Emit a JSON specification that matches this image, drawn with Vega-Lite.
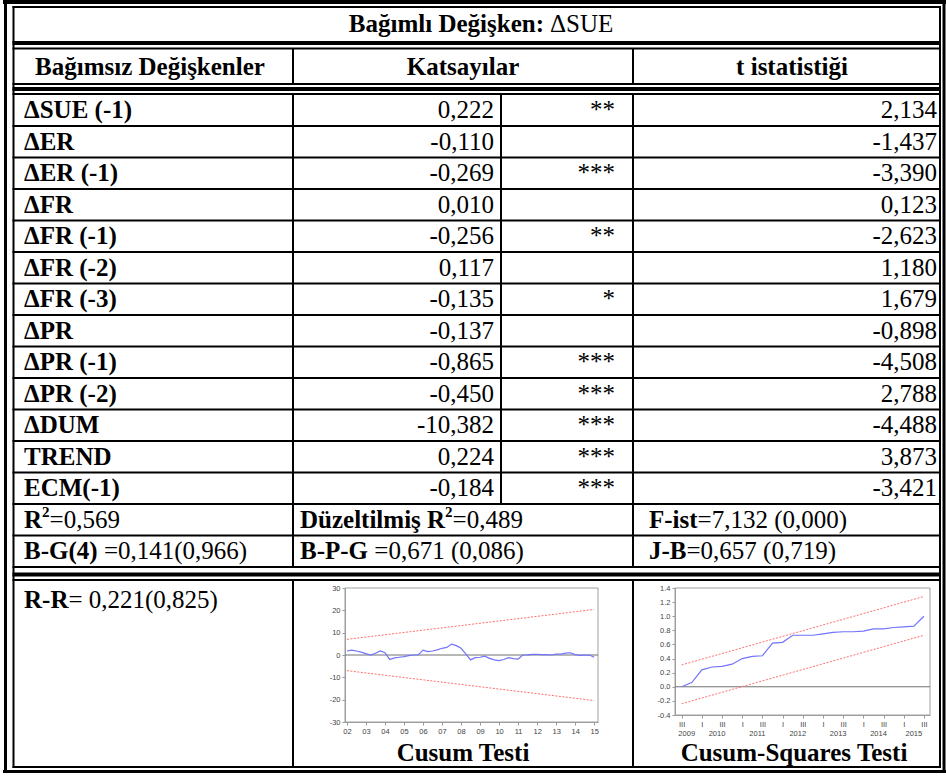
{
"$schema": "https://vega.github.io/schema/vega-lite/v6.json",
"width": 946, "height": 778,
"autosize": {"type": "none"},
"padding": 0,
"background": "white",
"config": {
  "view": {"stroke": null},
  "locale": {"number": {"decimal": ",", "thousands": ".", "grouping": [3], "currency": ["", ""], "minus": "-"}},
  "text": {"font": "Liberation Serif", "fontSize": 25, "color": "black", "baseline": "middle"},
  "rule": {"color": "black"}
},
"datasets": {
  "katsayilar": [
    {"degisken": "ΔSUE (-1)", "katsayi": 0.222, "anlamlilik": "**", "t_ist": 2.134},
    {"degisken": "ΔER", "katsayi": -0.110, "anlamlilik": "", "t_ist": -1.437},
    {"degisken": "ΔER (-1)", "katsayi": -0.269, "anlamlilik": "***", "t_ist": -3.390},
    {"degisken": "ΔFR", "katsayi": 0.010, "anlamlilik": "", "t_ist": 0.123},
    {"degisken": "ΔFR (-1)", "katsayi": -0.256, "anlamlilik": "**", "t_ist": -2.623},
    {"degisken": "ΔFR (-2)", "katsayi": 0.117, "anlamlilik": "", "t_ist": 1.180},
    {"degisken": "ΔFR (-3)", "katsayi": -0.135, "anlamlilik": "*", "t_ist": 1.679},
    {"degisken": "ΔPR", "katsayi": -0.137, "anlamlilik": "", "t_ist": -0.898},
    {"degisken": "ΔPR (-1)", "katsayi": -0.865, "anlamlilik": "***", "t_ist": -4.508},
    {"degisken": "ΔPR (-2)", "katsayi": -0.450, "anlamlilik": "***", "t_ist": 2.788},
    {"degisken": "ΔDUM", "katsayi": -10.382, "anlamlilik": "***", "t_ist": -4.488},
    {"degisken": "TREND", "katsayi": 0.224, "anlamlilik": "***", "t_ist": 3.873},
    {"degisken": "ECM(-1)", "katsayi": -0.184, "anlamlilik": "***", "t_ist": -3.421}
  ],
  "istatistikler": [
    {"satir": "R2", "sutun": 1, "kalin": "R", "ust": "2", "metin": "=0,569"},
    {"satir": "R2", "sutun": 2, "kalin": "Düzeltilmiş R", "ust": "2", "metin": "=0,489"},
    {"satir": "R2", "sutun": 3, "kalin": "F-ist", "ust": "", "metin": "=7,132 (0,000)"},
    {"satir": "BG", "sutun": 1, "kalin": "B-G(4)", "ust": "", "metin": "=0,141(0,966)"},
    {"satir": "BG", "sutun": 2, "kalin": "B-P-G", "ust": "", "metin": "=0,671 (0,086)"},
    {"satir": "BG", "sutun": 3, "kalin": "J-B", "ust": "", "metin": "=0,657 (0,719)"},
    {"satir": "RR", "sutun": 1, "kalin": "R-R", "ust": "", "metin": "= 0,221(0,825)"}
  ],
  "cusum": [
    {"t": 2002.00, "cusum": 1.8}, {"t": 2002.25, "cusum": 2.2}, {"t": 2002.50, "cusum": 1.8}, {"t": 2002.75, "cusum": 1.3},
    {"t": 2003.00, "cusum": 0.6}, {"t": 2003.25, "cusum": 0.0}, {"t": 2003.50, "cusum": 0.8}, {"t": 2003.75, "cusum": 1.8},
    {"t": 2004.00, "cusum": 1.0}, {"t": 2004.25, "cusum": -2.0}, {"t": 2004.50, "cusum": -1.3}, {"t": 2004.75, "cusum": -1.0},
    {"t": 2005.00, "cusum": -0.7}, {"t": 2005.25, "cusum": -0.3}, {"t": 2005.50, "cusum": 0.0}, {"t": 2005.75, "cusum": 0.0},
    {"t": 2006.00, "cusum": 2.2}, {"t": 2006.25, "cusum": 1.5}, {"t": 2006.50, "cusum": 1.8}, {"t": 2006.75, "cusum": 2.3},
    {"t": 2007.00, "cusum": 3.0}, {"t": 2007.25, "cusum": 3.4}, {"t": 2007.50, "cusum": 4.9}, {"t": 2007.75, "cusum": 4.2},
    {"t": 2008.00, "cusum": 3.0}, {"t": 2008.25, "cusum": 0.5}, {"t": 2008.50, "cusum": -2.2}, {"t": 2008.75, "cusum": -1.2},
    {"t": 2009.00, "cusum": -1.0}, {"t": 2009.25, "cusum": -0.5}, {"t": 2009.50, "cusum": -1.5}, {"t": 2009.75, "cusum": -2.2},
    {"t": 2010.00, "cusum": -2.5}, {"t": 2010.25, "cusum": -2.0}, {"t": 2010.50, "cusum": -1.2}, {"t": 2010.75, "cusum": -1.6},
    {"t": 2011.00, "cusum": -1.8}, {"t": 2011.25, "cusum": 0.0}, {"t": 2011.50, "cusum": 0.1}, {"t": 2011.75, "cusum": 0.3},
    {"t": 2012.00, "cusum": 0.3}, {"t": 2012.25, "cusum": 0.2}, {"t": 2012.50, "cusum": 0.2}, {"t": 2012.75, "cusum": 0.0},
    {"t": 2013.00, "cusum": 0.4}, {"t": 2013.25, "cusum": 0.4}, {"t": 2013.50, "cusum": 0.8}, {"t": 2013.75, "cusum": 1.0},
    {"t": 2014.00, "cusum": 0.2}, {"t": 2014.25, "cusum": -0.2}, {"t": 2014.50, "cusum": -0.1}, {"t": 2014.75, "cusum": 0.0},
    {"t": 2015.00, "cusum": -1.0}
  ],
  "cusum_sinir": [
    {"t": 2002.0, "alt": -7.0, "ust": 7.0},
    {"t": 2015.0, "alt": -20.4, "ust": 20.4}
  ],
  "cusumkare": [
    {"t": 2009.50, "yil": "2009", "cusumkare": 0.00}, {"t": 2009.75, "yil": "2009", "cusumkare": 0.06},
    {"t": 2010.00, "yil": "2010", "cusumkare": 0.24}, {"t": 2010.25, "yil": "2010", "cusumkare": 0.28},
    {"t": 2010.50, "yil": "2010", "cusumkare": 0.29}, {"t": 2010.75, "yil": "2010", "cusumkare": 0.32},
    {"t": 2011.00, "yil": "2011", "cusumkare": 0.40}, {"t": 2011.25, "yil": "2011", "cusumkare": 0.43},
    {"t": 2011.50, "yil": "2011", "cusumkare": 0.44}, {"t": 2011.75, "yil": "2011", "cusumkare": 0.62},
    {"t": 2012.00, "yil": "2012", "cusumkare": 0.63}, {"t": 2012.25, "yil": "2012", "cusumkare": 0.73},
    {"t": 2012.50, "yil": "2012", "cusumkare": 0.73}, {"t": 2012.75, "yil": "2012", "cusumkare": 0.73},
    {"t": 2013.00, "yil": "2013", "cusumkare": 0.75}, {"t": 2013.25, "yil": "2013", "cusumkare": 0.77},
    {"t": 2013.50, "yil": "2013", "cusumkare": 0.78}, {"t": 2013.75, "yil": "2013", "cusumkare": 0.78},
    {"t": 2014.00, "yil": "2014", "cusumkare": 0.79}, {"t": 2014.25, "yil": "2014", "cusumkare": 0.82},
    {"t": 2014.50, "yil": "2014", "cusumkare": 0.82}, {"t": 2014.75, "yil": "2014", "cusumkare": 0.84},
    {"t": 2015.00, "yil": "2015", "cusumkare": 0.85}, {"t": 2015.25, "yil": "2015", "cusumkare": 0.86},
    {"t": 2015.50, "yil": "2015", "cusumkare": 1.00}
  ],
  "cusumkare_sinir": [
    {"t": 2009.5, "alt": -0.24, "ust": 0.31},
    {"t": 2015.5, "alt": 0.73, "ust": 1.28}
  ]
},
"layer": [
  {
    "data": {"values": [{}]},
    "layer": [
      {"mark": {"type": "rule", "strokeWidth": 4}, "encoding": {"x": {"datum": 3, "scale": {"domain": [0, 946], "range": [0, 946], "nice": false, "zero": false}, "axis": null}, "x2": {"datum": 946}, "y": {"datum": 2, "scale": {"domain": [0, 778], "range": [0, 778], "nice": false, "zero": false}, "axis": null}}},
      {"mark": {"type": "rule", "strokeWidth": 3}, "encoding": {"x": {"datum": 3, "axis": null}, "x2": {"datum": 946}, "y": {"datum": 771.5, "axis": null}}},
      {"mark": {"type": "rule", "strokeWidth": 3}, "encoding": {"x": {"datum": 5.5, "axis": null}, "y": {"datum": 0, "axis": null}, "y2": {"datum": 773}}},
      {"mark": {"type": "rule", "strokeWidth": 3}, "encoding": {"x": {"datum": 944, "axis": null}, "y": {"datum": 0, "axis": null}, "y2": {"datum": 773}}},
      {"mark": {"type": "rule", "strokeWidth": 2}, "encoding": {"x": {"datum": 12.5, "axis": null}, "x2": {"datum": 941}, "y": {"datum": 7, "axis": null}}},
      {"mark": {"type": "rule", "strokeWidth": 2}, "encoding": {"x": {"datum": 12.5, "axis": null}, "x2": {"datum": 941}, "y": {"datum": 767, "axis": null}}},
      {"mark": {"type": "rule", "strokeWidth": 2}, "encoding": {"x": {"datum": 13.5, "axis": null}, "y": {"datum": 6, "axis": null}, "y2": {"datum": 768}}},
      {"mark": {"type": "rule", "strokeWidth": 2}, "encoding": {"x": {"datum": 940, "axis": null}, "y": {"datum": 6, "axis": null}, "y2": {"datum": 768}}},
      {"mark": {"type": "rule", "strokeWidth": 4}, "encoding": {"x": {"datum": 12.5, "axis": null}, "x2": {"datum": 941}, "y": {"datum": 43, "axis": null}}},
      {"mark": {"type": "rule", "strokeWidth": 2}, "encoding": {"x": {"datum": 12.5, "axis": null}, "x2": {"datum": 941}, "y": {"datum": 48.5, "axis": null}}},
      {"mark": {"type": "rule", "strokeWidth": 2}, "encoding": {"x": {"datum": 12.5, "axis": null}, "x2": {"datum": 941}, "y": {"datum": 84, "axis": null}}},
      {"mark": {"type": "rule", "strokeWidth": 4}, "encoding": {"x": {"datum": 12.5, "axis": null}, "x2": {"datum": 941}, "y": {"datum": 89, "axis": null}}},
      {"mark": {"type": "rule", "strokeWidth": 2}, "encoding": {"x": {"datum": 12.5, "axis": null}, "x2": {"datum": 941}, "y": {"datum": 94, "axis": null}}},
      {"mark": {"type": "rule", "strokeWidth": 2}, "encoding": {"x": {"datum": 12.5, "axis": null}, "x2": {"datum": 941}, "y": {"datum": 567, "axis": null}}},
      {"mark": {"type": "rule", "strokeWidth": 4}, "encoding": {"x": {"datum": 12.5, "axis": null}, "x2": {"datum": 941}, "y": {"datum": 574.5, "axis": null}}},
      {"mark": {"type": "rule", "strokeWidth": 2}, "encoding": {"x": {"datum": 12.5, "axis": null}, "x2": {"datum": 941}, "y": {"datum": 580, "axis": null}}},
      {"mark": {"type": "rule", "strokeWidth": 2}, "encoding": {"x": {"datum": 293, "axis": null}, "y": {"datum": 48.5, "axis": null}, "y2": {"datum": 84}}},
      {"mark": {"type": "rule", "strokeWidth": 2}, "encoding": {"x": {"datum": 293, "axis": null}, "y": {"datum": 94, "axis": null}, "y2": {"datum": 567}}},
      {"mark": {"type": "rule", "strokeWidth": 2}, "encoding": {"x": {"datum": 293, "axis": null}, "y": {"datum": 580, "axis": null}, "y2": {"datum": 767}}},
      {"mark": {"type": "rule", "strokeWidth": 2}, "encoding": {"x": {"datum": 633, "axis": null}, "y": {"datum": 48.5, "axis": null}, "y2": {"datum": 84}}},
      {"mark": {"type": "rule", "strokeWidth": 2}, "encoding": {"x": {"datum": 633, "axis": null}, "y": {"datum": 94, "axis": null}, "y2": {"datum": 567}}},
      {"mark": {"type": "rule", "strokeWidth": 2}, "encoding": {"x": {"datum": 633, "axis": null}, "y": {"datum": 580, "axis": null}, "y2": {"datum": 767}}},
      {"mark": {"type": "rule", "strokeWidth": 2}, "encoding": {"x": {"datum": 501, "axis": null}, "y": {"datum": 94, "axis": null}, "y2": {"datum": 504.5}}},
      {"mark": {"type": "text", "align": "right", "fontWeight": "bold"}, "encoding": {"x": {"datum": 544, "axis": null}, "y": {"datum": 24, "axis": null}, "text": {"value": "Bağımlı Değişken:"}}},
      {"mark": {"type": "text", "align": "left"}, "encoding": {"x": {"datum": 550, "axis": null}, "y": {"datum": 24, "axis": null}, "text": {"value": "ΔSUE"}}},
      {"mark": {"type": "text", "align": "center", "fontWeight": "bold"}, "encoding": {"x": {"datum": 150, "axis": null}, "y": {"datum": 67, "axis": null}, "text": {"value": "Bağımsız Değişkenler"}}},
      {"mark": {"type": "text", "align": "center", "fontWeight": "bold"}, "encoding": {"x": {"datum": 463, "axis": null}, "y": {"datum": 67, "axis": null}, "text": {"value": "Katsayılar"}}},
      {"mark": {"type": "text", "align": "center", "fontWeight": "bold"}, "encoding": {"x": {"datum": 792, "axis": null}, "y": {"datum": 67, "axis": null}, "text": {"value": "t istatistiği"}}},
      {"data": {"name": "istatistikler"}, "transform": [{"filter": "datum.satir == 'RR'"}], "mark": {"type": "text", "align": "left", "fontWeight": "bold"}, "encoding": {"x": {"datum": 24, "axis": null}, "y": {"datum": 600, "axis": null}, "text": {"field": "kalin"}}},
      {"data": {"name": "istatistikler"}, "transform": [{"filter": "datum.satir == 'RR'"}], "mark": {"type": "text", "align": "left", "dx": 44.4}, "encoding": {"x": {"datum": 24, "axis": null}, "y": {"datum": 600, "axis": null}, "text": {"field": "metin"}}},
      {"mark": {"type": "text", "align": "center", "fontWeight": "bold"}, "encoding": {"x": {"datum": 463, "axis": null}, "y": {"datum": 753, "axis": null}, "text": {"value": "Cusum Testi"}}},
      {"mark": {"type": "text", "align": "center", "fontWeight": "bold"}, "encoding": {"x": {"datum": 794, "axis": null}, "y": {"datum": 753, "axis": null}, "text": {"value": "Cusum-Squares Testi"}}}
    ]
  },
  {
    "data": {"name": "katsayilar"},
    "layer": [
      {"mark": {"type": "text", "align": "left", "fontWeight": "bold"},
       "encoding": {
         "x": {"datum": 24, "scale": {"domain": [0, 946], "range": [0, 946], "nice": false, "zero": false}, "axis": null},
         "y": {"field": "degisken", "type": "nominal", "sort": null, "scale": {"domain": ["ΔSUE (-1)", "ΔER", "ΔER (-1)", "ΔFR", "ΔFR (-1)", "ΔFR (-2)", "ΔFR (-3)", "ΔPR", "ΔPR (-1)", "ΔPR (-2)", "ΔDUM", "TREND", "ECM(-1)", "R2", "BG"], "range": [94.5, 567], "paddingInner": 0, "paddingOuter": 0}, "axis": null},
         "text": {"field": "degisken"}}},
      {"mark": {"type": "text", "align": "right"}, "encoding": {"x": {"datum": 494, "axis": null}, "y": {"field": "degisken", "type": "nominal", "axis": null}, "text": {"field": "katsayi", "type": "quantitative", "format": ".3f"}}},
      {"mark": {"type": "text", "align": "right"}, "encoding": {"x": {"datum": 615, "axis": null}, "y": {"field": "degisken", "type": "nominal", "axis": null}, "text": {"field": "anlamlilik"}}},
      {"mark": {"type": "text", "align": "right"}, "encoding": {"x": {"datum": 937, "axis": null}, "y": {"field": "degisken", "type": "nominal", "axis": null}, "text": {"field": "t_ist", "type": "quantitative", "format": ".3f"}}},
      {"mark": {"type": "rule", "strokeWidth": 2}, "encoding": {"x": {"datum": 12.5, "axis": null}, "x2": {"datum": 941}, "y": {"field": "degisken", "type": "nominal", "bandPosition": 1, "axis": null}}},
      {"data": {"name": "istatistikler"}, "transform": [{"filter": "datum.satir == 'R2' && datum.sutun == 1"}], "mark": {"type": "rule", "strokeWidth": 2}, "encoding": {"x": {"datum": 12.5, "axis": null}, "x2": {"datum": 941}, "y": {"field": "satir", "type": "nominal", "bandPosition": 1, "axis": null}}},
      {"data": {"name": "istatistikler"}, "transform": [{"filter": "datum.satir != 'RR' && datum.sutun == 1"}], "mark": {"type": "text", "align": "left", "fontWeight": "bold"}, "encoding": {"x": {"datum": 24, "axis": null}, "y": {"field": "satir", "type": "nominal", "axis": null}, "text": {"field": "kalin"}}},
      {"data": {"name": "istatistikler"}, "transform": [{"filter": "datum.satir != 'RR' && datum.sutun == 2"}], "mark": {"type": "text", "align": "left", "fontWeight": "bold"}, "encoding": {"x": {"datum": 300, "axis": null}, "y": {"field": "satir", "type": "nominal", "axis": null}, "text": {"field": "kalin"}}},
      {"data": {"name": "istatistikler"}, "transform": [{"filter": "datum.satir != 'RR' && datum.sutun == 3"}], "mark": {"type": "text", "align": "left", "fontWeight": "bold"}, "encoding": {"x": {"datum": 649, "axis": null}, "y": {"field": "satir", "type": "nominal", "axis": null}, "text": {"field": "kalin"}}},
      {"data": {"name": "istatistikler"}, "transform": [{"filter": "datum.satir == 'R2' && datum.sutun == 1"}], "mark": {"type": "text", "align": "left", "fontWeight": "bold", "fontSize": 15, "dx": 18, "dy": -8}, "encoding": {"x": {"datum": 24, "axis": null}, "y": {"field": "satir", "type": "nominal", "axis": null}, "text": {"field": "ust"}}},
      {"data": {"name": "istatistikler"}, "transform": [{"filter": "datum.satir == 'R2' && datum.sutun == 2"}], "mark": {"type": "text", "align": "left", "fontWeight": "bold", "fontSize": 15, "dx": 145, "dy": -8}, "encoding": {"x": {"datum": 300, "axis": null}, "y": {"field": "satir", "type": "nominal", "axis": null}, "text": {"field": "ust"}}},
      {"data": {"name": "istatistikler"}, "transform": [{"filter": "datum.satir == 'R2' && datum.sutun == 1"}], "mark": {"type": "text", "align": "left", "dx": 25.6}, "encoding": {"x": {"datum": 24, "axis": null}, "y": {"field": "satir", "type": "nominal", "axis": null}, "text": {"field": "metin"}}},
      {"data": {"name": "istatistikler"}, "transform": [{"filter": "datum.satir == 'BG' && datum.sutun == 1"}], "mark": {"type": "text", "align": "left", "dx": 79.9}, "encoding": {"x": {"datum": 24, "axis": null}, "y": {"field": "satir", "type": "nominal", "axis": null}, "text": {"field": "metin"}}},
      {"data": {"name": "istatistikler"}, "transform": [{"filter": "datum.satir == 'R2' && datum.sutun == 2"}], "mark": {"type": "text", "align": "left", "dx": 152.6}, "encoding": {"x": {"datum": 300, "axis": null}, "y": {"field": "satir", "type": "nominal", "axis": null}, "text": {"field": "metin"}}},
      {"data": {"name": "istatistikler"}, "transform": [{"filter": "datum.satir == 'BG' && datum.sutun == 2"}], "mark": {"type": "text", "align": "left", "dx": 74.3}, "encoding": {"x": {"datum": 300, "axis": null}, "y": {"field": "satir", "type": "nominal", "axis": null}, "text": {"field": "metin"}}},
      {"data": {"name": "istatistikler"}, "transform": [{"filter": "datum.satir == 'R2' && datum.sutun == 3"}], "mark": {"type": "text", "align": "left", "dx": 48.6}, "encoding": {"x": {"datum": 649, "axis": null}, "y": {"field": "satir", "type": "nominal", "axis": null}, "text": {"field": "metin"}}},
      {"data": {"name": "istatistikler"}, "transform": [{"filter": "datum.satir == 'BG' && datum.sutun == 3"}], "mark": {"type": "text", "align": "left", "dx": 37.5}, "encoding": {"x": {"datum": 649, "axis": null}, "y": {"field": "satir", "type": "nominal", "axis": null}, "text": {"field": "metin"}}}
    ]
  },
  {
    "layer": [
      {"data": {"values": [{}]}, "mark": {"type": "rect", "fillOpacity": 0, "stroke": "#a0a0a0", "strokeWidth": 1},
       "encoding": {
         "x": {"datum": 2001.9, "scale": {"domain": [2001.9, 2015.2], "range": [345, 598], "nice": false, "zero": false},
               "axis": {"orient": "bottom", "offset": -56, "title": null, "values": [2002, 2003, 2004, 2005, 2006, 2007, 2008, 2009, 2010, 2011, 2012, 2013, 2014, 2015], "labelExpr": "slice(toString(datum.value), 2)", "labelFont": "Liberation Sans", "labelFontSize": 7.5, "labelColor": "#444", "tickColor": "#999", "domainColor": "#999", "tickSize": 3, "labelPadding": 2, "grid": false, "labelOverlap": false, "labelFlush": false}},
         "x2": {"datum": 2015.2},
         "y": {"datum": -30, "scale": {"domain": [-30, 30], "range": [722, 588], "nice": false, "zero": false},
               "axis": {"orient": "left", "offset": -345, "title": null, "values": [-30, -20, -10, 0, 10, 20, 30], "format": "d", "labelFont": "Liberation Sans", "labelFontSize": 7.5, "labelColor": "#444", "tickColor": "#999", "domainColor": "#999", "tickSize": 3, "labelPadding": 2, "grid": false, "labelOverlap": false, "labelFlush": false}},
         "y2": {"datum": 30}}},
      {"data": {"values": [{}]}, "mark": {"type": "rule", "color": "#707070", "strokeWidth": 1}, "encoding": {"x": {"datum": 2001.9}, "x2": {"datum": 2015.2}, "y": {"datum": 0}}},
      {"data": {"name": "cusum_sinir"}, "mark": {"type": "line", "color": "#ff6f6f", "strokeWidth": 1, "strokeDash": [2, 1.5]}, "encoding": {"x": {"field": "t", "type": "quantitative"}, "y": {"field": "ust", "type": "quantitative"}}},
      {"data": {"name": "cusum_sinir"}, "mark": {"type": "line", "color": "#ff6f6f", "strokeWidth": 1, "strokeDash": [2, 1.5]}, "encoding": {"x": {"field": "t", "type": "quantitative"}, "y": {"field": "alt", "type": "quantitative"}}},
      {"data": {"name": "cusum"}, "mark": {"type": "line", "color": "#7373ff", "strokeWidth": 1.2}, "encoding": {"x": {"field": "t", "type": "quantitative"}, "y": {"field": "cusum", "type": "quantitative"}}}
    ]
  },
  {
    "layer": [
      {"data": {"values": [{}]}, "mark": {"type": "rect", "fillOpacity": 0, "stroke": "#a0a0a0", "strokeWidth": 1},
       "encoding": {
         "x": {"datum": 2009.335, "scale": {"domain": [2009.335, 2015.65], "range": [675, 930], "nice": false, "zero": false},
               "axis": {"orient": "bottom", "offset": -63, "title": null, "values": [2009.5, 2009.75, 2010, 2010.25, 2010.5, 2010.75, 2011, 2011.25, 2011.5, 2011.75, 2012, 2012.25, 2012.5, 2012.75, 2013, 2013.25, 2013.5, 2013.75, 2014, 2014.25, 2014.5, 2014.75, 2015, 2015.25, 2015.5], "labelExpr": "['I','II','III','IV'][round((datum.value - floor(datum.value)) * 4)]", "labelFont": "Liberation Sans", "labelFontSize": 7.5, "labelColor": "#444", "tickColor": "#999", "domainColor": "#999", "tickSize": 3, "labelPadding": 2, "grid": false, "labelOverlap": false, "labelFlush": false}},
         "x2": {"datum": 2015.65},
         "y": {"datum": -0.4, "scale": {"domain": [-0.4, 1.4], "range": [715, 588], "nice": false, "zero": false},
               "axis": {"orient": "left", "offset": -675, "title": null, "values": [-0.4, -0.2, 0, 0.2, 0.4, 0.6, 0.8, 1.0, 1.2, 1.4], "labelExpr": "replace(format(datum.value, '.1f'), ',', '.')", "labelFont": "Liberation Sans", "labelFontSize": 7.5, "labelColor": "#444", "tickColor": "#999", "domainColor": "#999", "tickSize": 3, "labelPadding": 2, "grid": false, "labelOverlap": false, "labelFlush": false}},
         "y2": {"datum": 1.4}}},
      {"data": {"values": [{}]}, "mark": {"type": "rule", "color": "#707070", "strokeWidth": 1}, "encoding": {"x": {"datum": 2009.335}, "x2": {"datum": 2015.65}, "y": {"datum": 0}}},
      {"data": {"name": "cusumkare_sinir"}, "mark": {"type": "line", "color": "#ff6f6f", "strokeWidth": 1, "strokeDash": [2, 1.5]}, "encoding": {"x": {"field": "t", "type": "quantitative"}, "y": {"field": "ust", "type": "quantitative"}}},
      {"data": {"name": "cusumkare_sinir"}, "mark": {"type": "line", "color": "#ff6f6f", "strokeWidth": 1, "strokeDash": [2, 1.5]}, "encoding": {"x": {"field": "t", "type": "quantitative"}, "y": {"field": "alt", "type": "quantitative"}}},
      {"data": {"name": "cusumkare"}, "mark": {"type": "line", "color": "#7373ff", "strokeWidth": 1.2}, "encoding": {"x": {"field": "t", "type": "quantitative"}, "y": {"field": "cusumkare", "type": "quantitative"}}},
      {"data": {"name": "cusumkare"}, "transform": [{"aggregate": [{"op": "mean", "field": "t", "as": "orta"}], "groupby": ["yil"]}], "mark": {"type": "text", "font": "Liberation Sans", "fontSize": 7.5, "color": "#444", "dy": 19}, "encoding": {"x": {"field": "orta", "type": "quantitative"}, "y": {"datum": -0.4}, "text": {"field": "yil", "type": "nominal"}}}
    ]
  }
],
"resolve": {"scale": {"x": "independent", "y": "independent"}, "axis": {"x": "independent", "y": "independent"}}
}
